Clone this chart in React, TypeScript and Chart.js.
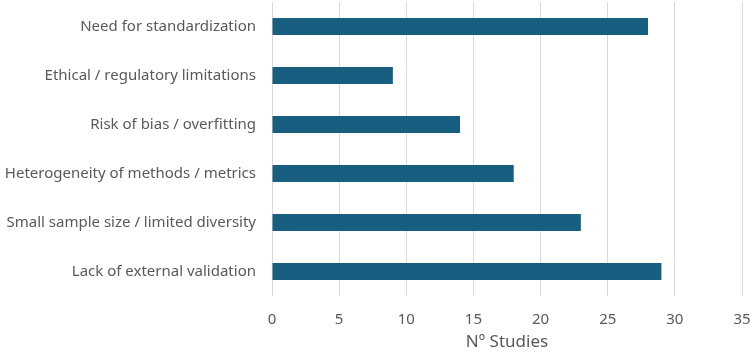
import React, { useEffect, useRef } from "react";
import { Chart, registerables } from "chart.js";

Chart.register(...registerables);

const categories = [
  "Need for standardization",
  "Ethical / regulatory limitations",
  "Risk of bias / overfitting",
  "Heterogeneity of methods / metrics",
  "Small sample size / limited diversity",
  "Lack of external validation",
];
const studies = [28, 9, 14, 18, 23, 29];
const xMin = 0;
const xMax = 35;
const xStep = 5;

const FONT = "'Noto Sans', sans-serif";
const TEXT = "#595959";

export default function App() {
  const ref = useRef<HTMLCanvasElement | null>(null);

  useEffect(() => {
    document.body.style.margin = "0";
    const canvas = ref.current;
    if (!canvas) return;
    const chart = new Chart(canvas, {
      type: "bar",
      data: {
        labels: categories,
        datasets: [
          {
            label: "Nº Studies",
            data: studies,
            backgroundColor: "#175e81",
            borderWidth: 0,
            categoryPercentage: 1,
            barPercentage: 0.35,
          },
        ],
      },
      options: {
        indexAxis: "y",
        animation: false,
        responsive: false,
        maintainAspectRatio: false,
        layout: { padding: { top: 2, right: 12, bottom: 0, left: 0 } },
        plugins: {
          legend: { display: false },
          tooltip: { enabled: false },
        },
        scales: {
          x: {
            min: xMin,
            max: xMax,
            ticks: {
              stepSize: xStep,
              color: TEXT,
              font: { family: FONT, size: 15 },
              padding: 15,
              maxRotation: 0,
            },
            grid: { color: "#d9d9d9", lineWidth: 1, drawTicks: false },
            border: { display: false },
            title: {
              display: true,
              text: "Nº Studies",
              color: TEXT,
              font: { family: FONT, size: 17 },
              padding: { top: 2, bottom: 2 },
            },
            afterFit: (s: any) => {
              s.height = 58;
              s.paddingLeft = 0;
              s.paddingRight = 0;
            },
          },
          y: {
            ticks: {
              color: TEXT,
              font: { family: FONT, size: 15 },
              padding: 16,
            },
            grid: { display: false, drawTicks: false },
            border: { display: false },
            afterFit: (s: any) => {
              s.width = 272;
              s.paddingTop = 0;
              s.paddingBottom = 0;
            },
          },
        },
      },
    });
    return () => chart.destroy();
  }, []);

  return <canvas ref={ref} width={754} height={354} style={{ display: "block" }} />;
}
